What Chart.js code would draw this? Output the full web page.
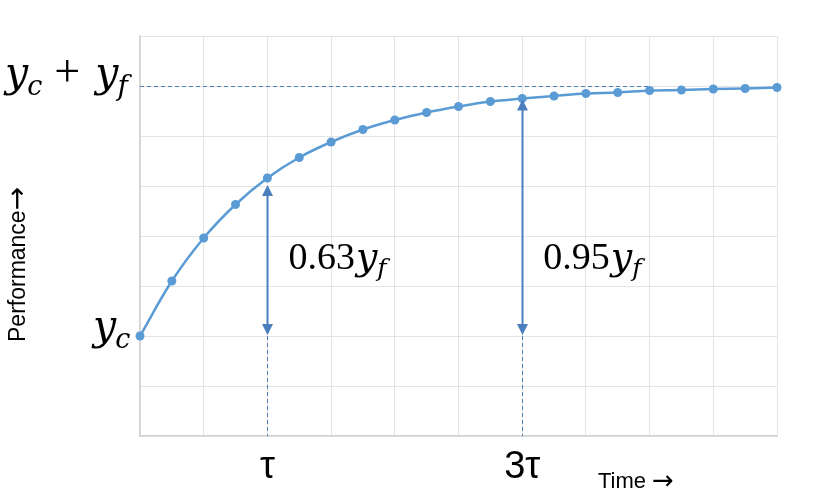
<!DOCTYPE html>
<html>
<head>
<meta charset="utf-8">
<title>Performance over time</title>
<script src="https://cdn.jsdelivr.net/npm/chart.js@4"></script>
<style>
    body { margin: 0; background: #fff; }
    #wrap { width: 813px; height: 489px; }
</style>
</head>
<body>
<div id="wrap"><canvas id="perf-chart" width="813" height="489"></canvas></div>
<script>
// time steps (tau = 4 steps)
const timeSteps = [0, 1, 2, 3, 4, 5, 6, 7, 8, 9, 10, 11, 12, 13, 14, 15, 16, 17, 18, 19, 20];
const performance = [2.00, 3.10, 3.96, 4.63, 5.16, 5.57, 5.88, 6.13, 6.32, 6.47, 6.59,
                     6.69, 6.75, 6.80, 6.85, 6.87, 6.91, 6.92, 6.94, 6.95, 6.97];

const yCurrent = 2;     // y_c
const yFinal = 7;       // y_c + y_f
const tauMarks = [4, 12];
const tauLabels = ['τ', '3τ'];
const fractionLabels = ['0.63', '0.95'];
const finalLineEnd = 16;

const lineColor = '#5b9bd5';
const arrowColor = '#4a7ebf';

function drawMath(ctx, x, baseline, parts) {
    let cx = x;
    parts.forEach(p => {
        ctx.font = p.font;
        cx += p.dx || 0;
        ctx.fillText(p.t, cx, baseline + (p.dy || 0));
        cx += ctx.measureText(p.t).width;
    });
}

function arrowHead(ctx, x, y, dir) {
    ctx.beginPath();
    ctx.moveTo(x, y);
    ctx.lineTo(x - 5.5, y + dir * 11);
    ctx.lineTo(x + 5.5, y + dir * 11);
    ctx.closePath();
    ctx.fill();
}

const annotations = {
    id: 'annotations',
    afterDraw(chart) {
        const ctx = chart.ctx;
        const xs = chart.scales.x;
        const ys = chart.scales.y;
        const area = chart.chartArea;
        ctx.save();

        // dashed guide lines
        ctx.strokeStyle = arrowColor;
        ctx.lineWidth = 1;
        ctx.setLineDash([4, 3]);
        ctx.beginPath();
        ctx.moveTo(xs.getPixelForValue(0), Math.round(ys.getPixelForValue(yFinal)) + 0.5);
        ctx.lineTo(xs.getPixelForValue(finalLineEnd), Math.round(ys.getPixelForValue(yFinal)) + 0.5);
        tauMarks.forEach(t => {
            const px = Math.round(xs.getPixelForValue(t)) + 0.5;
            ctx.moveTo(px, ys.getPixelForValue(yCurrent));
            ctx.lineTo(px, area.bottom);
        });
        ctx.stroke();
        ctx.setLineDash([]);

        // double arrows from y_c up to the curve
        ctx.fillStyle = arrowColor;
        ctx.lineWidth = 2;
        tauMarks.forEach((t, i) => {
            const px = Math.round(xs.getPixelForValue(t)) + 0.5;
            const top = ys.getPixelForValue(performance[t]) + (i === 0 ? 7 : 1);
            const bottom = ys.getPixelForValue(yCurrent) - 1;
            ctx.beginPath();
            ctx.moveTo(px, top + 8);
            ctx.lineTo(px, bottom - 8);
            ctx.stroke();
            arrowHead(ctx, px, top, 1);
            arrowHead(ctx, px, bottom, -1);
        });

        // math labels
        ctx.fillStyle = '#000';
        ctx.textAlign = 'left';
        ctx.textBaseline = 'alphabetic';
        const it = s => 'italic ' + s + 'px "DejaVu Serif"';
        const rm = s => s + 'px "Liberation Serif"';
        const topBase = ys.getPixelForValue(yFinal);
        drawMath(ctx, 5, topBase, [
            { t: 'y', font: it(41) },
            { t: 'c', font: it(27), dy: 9, dx: -1 },
            { t: '+', font: rm(46), dx: 12 },
            { t: 'y', font: it(41), dx: 15 },
            { t: 'f', font: it(28), dy: 9, dx: -1 }
        ]);
        drawMath(ctx, 93, ys.getPixelForValue(yCurrent) + 3, [
            { t: 'y', font: it(41) },
            { t: 'c', font: it(27), dy: 9, dx: -1 }
        ]);
        tauMarks.forEach((t, i) => {
            const px = xs.getPixelForValue(t);
            drawMath(ctx, px + 21, 269, [
                { t: fractionLabels[i], font: rm(38) },
                { t: 'y', font: it(38), dx: 1 },
                { t: 'f', font: it(25), dy: 7, dx: 0 }
            ]);
            ctx.font = '38px "Liberation Sans"';
            ctx.textAlign = 'center';
            ctx.fillText(tauLabels[i], px, 478);
            ctx.textAlign = 'left';
        });

        // axis captions
        drawMath(ctx, 598, 488, [
            { t: 'Time', font: '22px "Liberation Sans"' },
            { t: '→', font: '26px "DejaVu Sans"', dx: 6, dy: 1 }
        ]);
        ctx.translate(25, 342);
        ctx.rotate(-Math.PI / 2);
        drawMath(ctx, 0, 0, [
            { t: 'Performance', font: '23px "Liberation Sans"' },
            { t: '→', font: '28px "DejaVu Sans"', dx: 0, dy: 1 }
        ]);
        ctx.restore();
    }
};

const ctx = document.getElementById('perf-chart').getContext('2d');
new Chart(ctx, {
    type: 'line',
    data: {
        datasets: [{
            data: timeSteps.map((t, i) => ({ x: t, y: performance[i] })),
            borderColor: lineColor,
            backgroundColor: lineColor,
            borderWidth: 2.5,
            pointRadius: 4.5,
            pointBorderWidth: 0,
            tension: 0.35,
            clip: false
        }]
    },
    options: {
        responsive: false,
        animation: false,
        layout: { padding: { left: 140, right: 36, top: 36, bottom: 53 } },
        plugins: { legend: { display: false }, tooltip: { enabled: false } },
        scales: {
            x: {
                type: 'linear',
                min: 0,
                max: 20,
                ticks: { display: false, stepSize: 2 },
                grid: { color: '#e4e4e4', drawTicks: false },
                border: { color: '#d2d2d2', width: 1.5 }
            },
            y: {
                min: 0,
                max: 8,
                ticks: { display: false, stepSize: 1 },
                grid: { color: '#e4e4e4', drawTicks: false },
                border: { color: '#d2d2d2', width: 1.5 }
            }
        }
    },
    plugins: [annotations]
});
</script>
</body>
</html>
